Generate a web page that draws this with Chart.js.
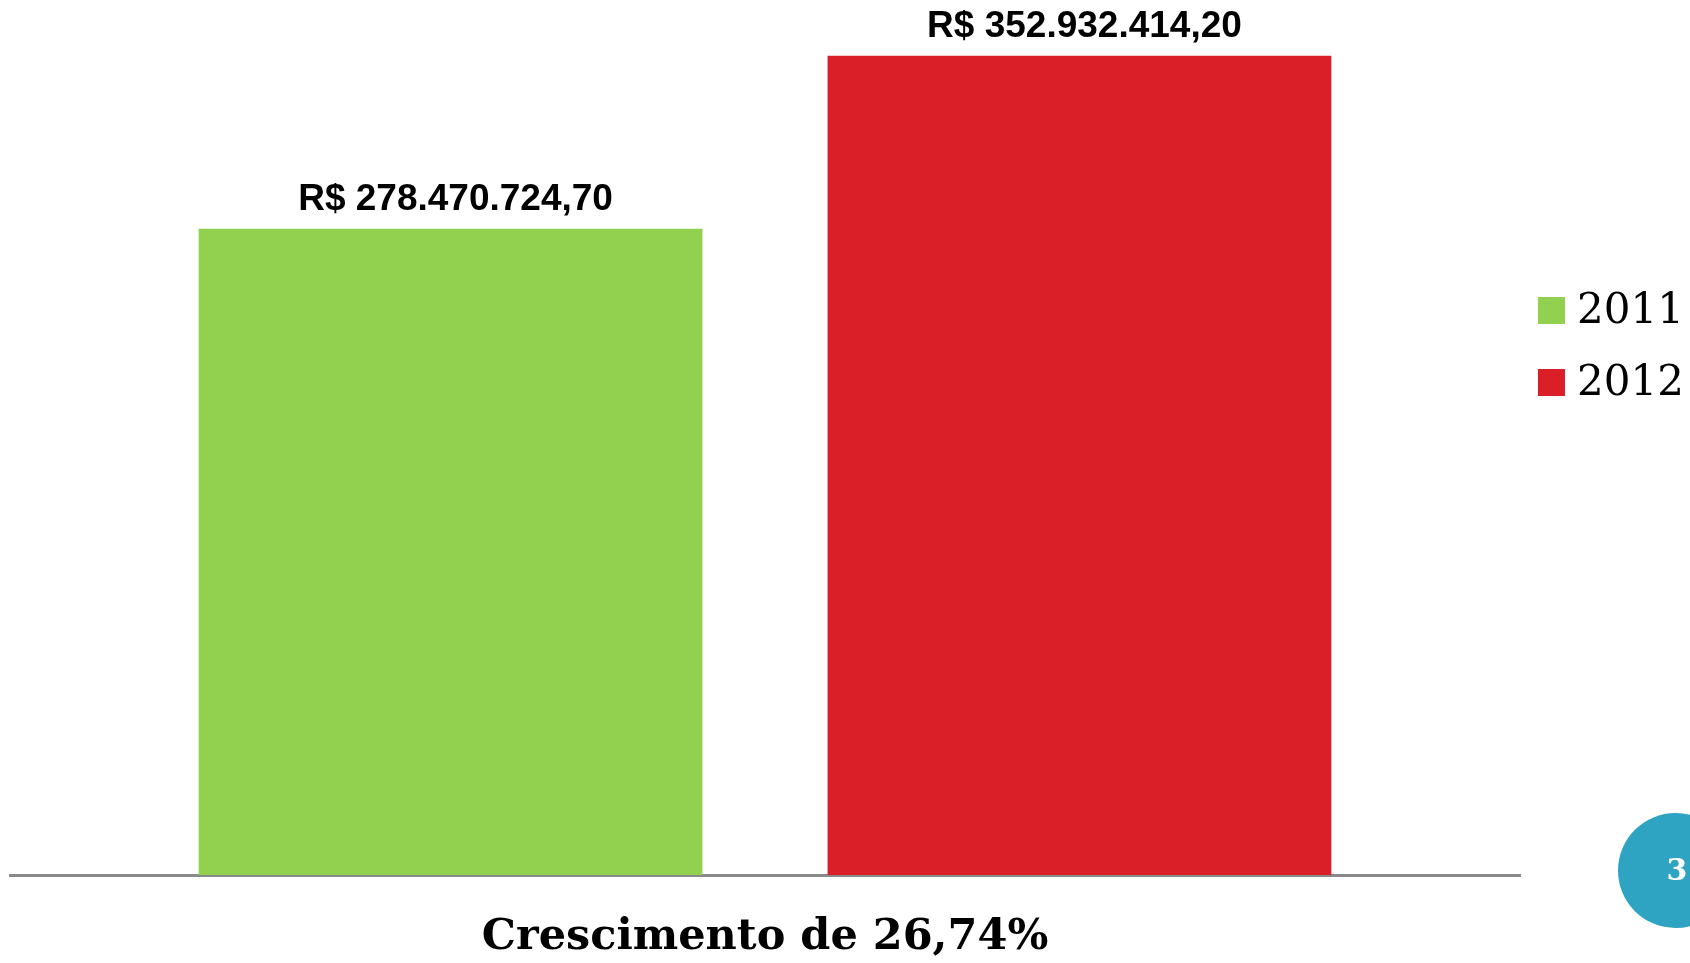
<!DOCTYPE html>
<html>
<head>
<meta charset="utf-8">
<script src="https://cdn.jsdelivr.net/npm/chart.js@4"></script>
<style>
  html, body { margin: 0; padding: 0; background: #fff; }
  #wrap { width: 1690px; height: 963px; position: relative; }
</style>
</head>
<body>
<div id="wrap"><canvas id="growthChart"></canvas></div>
<script>
// Data
const categories = [''];
const seriesLabels = ['2011', '2012'];
const values2011 = [278470724.70];
const values2012 = [352932414.20];
const seriesColors = ['#92D050', '#DA1F28'];
const footerText = 'Crescimento de 26,74%';
const pageNumber = '3';

// R$ 1.234,56 style
function formatBRL(v) {
  const [intPart, dec] = v.toFixed(2).split('.');
  return 'R$ ' + intPart.replace(/\B(?=(\d{3})+(?!\d))/g, '.') + ',' + dec;
}

const valueLabels = {
  id: 'valueLabels',
  afterDatasetsDraw(chart) {
    const ctx = chart.ctx;
    ctx.save();
    ctx.font = 'bold 37px "Liberation Sans", Arial, sans-serif';
    ctx.fillStyle = '#000';
    ctx.textAlign = 'center';
    ctx.textBaseline = 'alphabetic';
    chart.data.datasets.forEach((ds, i) => {
      chart.getDatasetMeta(i).data.forEach((bar, j) => {
        ctx.fillText(formatBRL(ds.data[j]), bar.x + 5, bar.y - 19);
      });
    });
    ctx.restore();
  }
};

const sideLegend = {
  id: 'sideLegend',
  afterDraw(chart) {
    const ctx = chart.ctx;
    ctx.save();
    ctx.font = '42px "DejaVu Serif", serif';
    ctx.textBaseline = 'middle';
    ctx.textAlign = 'left';
    chart.data.datasets.forEach((ds, i) => {
      const y = 297 + i * 72;
      ctx.fillStyle = ds.backgroundColor;
      ctx.fillRect(1538, y, 27, 27);
      ctx.fillStyle = '#000';
      ctx.fillText(ds.label, 1577, y + 15);
    });
    // page badge
    ctx.beginPath();
    ctx.arc(1675.5, 870.5, 57.5, 0, Math.PI * 2);
    ctx.fillStyle = '#2EA3C2';
    ctx.fill();
    ctx.fillStyle = '#fff';
    ctx.font = 'bold 30px "DejaVu Serif", serif';
    ctx.textAlign = 'center';
    ctx.fillText(pageNumber, 1677, 872);
    ctx.restore();
  }
};

new Chart(document.getElementById('growthChart'), {
  type: 'bar',
  data: {
    labels: categories,
    datasets: [
      { label: seriesLabels[0], data: values2011, backgroundColor: seriesColors[0] },
      { label: seriesLabels[1], data: values2012, backgroundColor: seriesColors[1] }
    ]
  },
  options: {
    responsive: true,
    maintainAspectRatio: false,
    animation: false,
    categoryPercentage: 0.833,
    barPercentage: 0.801,
    layout: { padding: { left: 10, right: 170, top: 0, bottom: 4 } },
    scales: {
      x: {
        grid: { display: false, drawTicks: false },
        border: { display: true, color: '#8a8a8a', width: 3 },
        ticks: { display: false },
        title: {
          display: true,
          text: footerText,
          color: '#000',
          font: { family: '"DejaVu Serif", serif', size: 43, weight: 'bold', lineHeight: 1 },
          padding: { top: 41, bottom: 0 }
        }
      },
      y: { display: false, min: 0, max: 377000000 }
    },
    plugins: {
      legend: { display: false },
      tooltip: { enabled: false }
    }
  },
  plugins: [valueLabels, sideLegend]
});
</script>
</body>
</html>
